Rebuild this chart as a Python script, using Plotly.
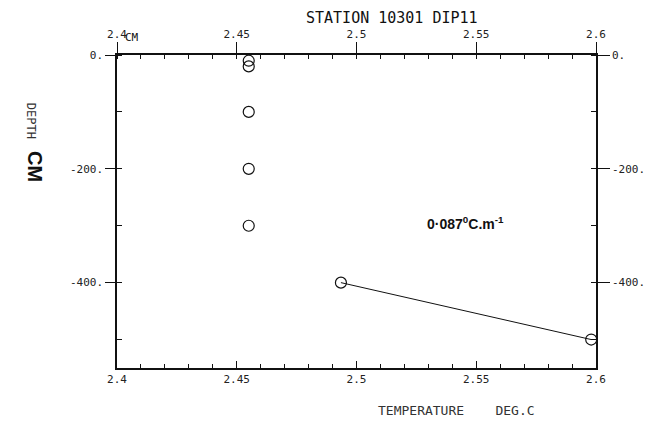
import plotly.graph_objects as go

# Data
temps = [2.455, 2.455, 2.455, 2.455, 2.455, 2.4935, 2.598]
depths = [-10, -20, -100, -200, -300, -400, -500]
grad_idx = [5, 6]  # points joined by the gradient line

x_ticks = [2.4, 2.45, 2.5, 2.55, 2.6]
x_ticktext = ["2.4", "2.45", "2.5", "2.55", "2.6"]
y_ticks = [0, -200, -400]
y_ticktext = ["0.", "-200.", "-400."]

title_text = "STATION 10301 DIP11"
xtitle_text = "TEMPERATURE    DEG.C"
gradient_label = "0·087<sup>0</sup>C.m<sup>-1</sup>"

INK = "#111111"
MONO = "DejaVu Sans Mono, Liberation Mono, monospace"

fig = go.Figure()

fig.add_trace(go.Scatter(
    x=[temps[i] for i in grad_idx], y=[depths[i] for i in grad_idx],
    mode="lines", line=dict(color=INK, width=1), showlegend=False,
    hoverinfo="skip", cliponaxis=False))

fig.add_trace(go.Scatter(
    x=temps, y=depths, mode="markers",
    marker=dict(symbol="circle-open", size=11, color=INK, line=dict(width=1.2, color=INK)),
    showlegend=False, cliponaxis=False))

# invisible trace to anchor the secondary (top/right) axes
fig.add_trace(go.Scatter(x=temps, y=depths, xaxis="x2", yaxis="y2", mode="markers",
                         marker=dict(opacity=0), showlegend=False, hoverinfo="skip"))

axis_common = dict(showgrid=False, zeroline=False, showline=True, linecolor=INK,
                   linewidth=1.5, tickcolor=INK,
                   tickfont=dict(family=MONO, size=11, color="#222222"))

fig.update_layout(
    width=670, height=430,
    margin=dict(l=117, r=74, t=55, b=62),
    paper_bgcolor="white", plot_bgcolor="white",
    xaxis=dict(range=[2.4, 2.6], tickvals=x_ticks, ticktext=x_ticktext,
               ticks="inside", ticklen=7, tickwidth=1,
               minor=dict(dtick=0.01, ticks="inside", ticklen=4, tickcolor=INK, tickwidth=1),
               **axis_common),
    xaxis2=dict(range=[2.4, 2.6], overlaying="x", side="top", anchor="y",
                tickvals=x_ticks, ticktext=x_ticktext,
                ticks="outside", ticklen=11, tickwidth=1,
                minor=dict(dtick=0.01, ticks="inside", ticklen=4, tickcolor=INK, tickwidth=1),
                **axis_common),
    yaxis=dict(range=[-550, 0], tickvals=y_ticks, ticktext=y_ticktext,
               ticks="outside", ticklen=10, tickwidth=1,
               minor=dict(dtick=100, ticks="inside", ticklen=5, tickcolor=INK, tickwidth=1),
               **axis_common),
    yaxis2=dict(range=[-550, 0], overlaying="y", side="right", anchor="x",
                tickvals=y_ticks, ticktext=y_ticktext,
                ticks="outside", ticklen=12, tickwidth=1,
                minor=dict(dtick=100, ticks="inside", ticklen=5, tickcolor=INK, tickwidth=1),
                **axis_common),
    showlegend=False,
)

fig.add_annotation(text=title_text, xref="paper", yref="paper", x=0.574, y=1.0,
                   xanchor="center", yshift=37, yanchor="middle", showarrow=False,
                   font=dict(family=MONO, size=15, color=INK))
fig.add_annotation(text=xtitle_text, xref="paper", yref="paper", x=0.708, y=0.0,
                   xanchor="center", yshift=-42, yanchor="middle", showarrow=False,
                   font=dict(family=MONO, size=13, color="#333333"))
fig.add_annotation(text="DEPTH", xref="paper", yref="paper", x=0, xshift=-95, y=0.79,
                   yanchor="middle", textangle=90, showarrow=False,
                   font=dict(family=MONO, size=12, color="#333333"))
fig.add_annotation(text="<b>CM</b>", xref="paper", yref="paper", x=0, xshift=-95, y=0.645,
                   yanchor="middle", textangle=90, showarrow=False,
                   font=dict(family="Liberation Sans, Arial", size=20, color=INK))
fig.add_annotation(text="CM", xref="paper", yref="paper", x=0, xshift=6, y=1.0, yshift=18,
                   yanchor="middle", showarrow=False,
                   font=dict(family=MONO, size=11, color=INK))
fig.add_annotation(text="<b>" + gradient_label + "</b>", x=2.5457, y=-295, xref="x", yref="y",
                   xanchor="center", showarrow=False,
                   font=dict(family="Liberation Sans, Arial", size=14, color=INK))

fig.write_html("out.html")
